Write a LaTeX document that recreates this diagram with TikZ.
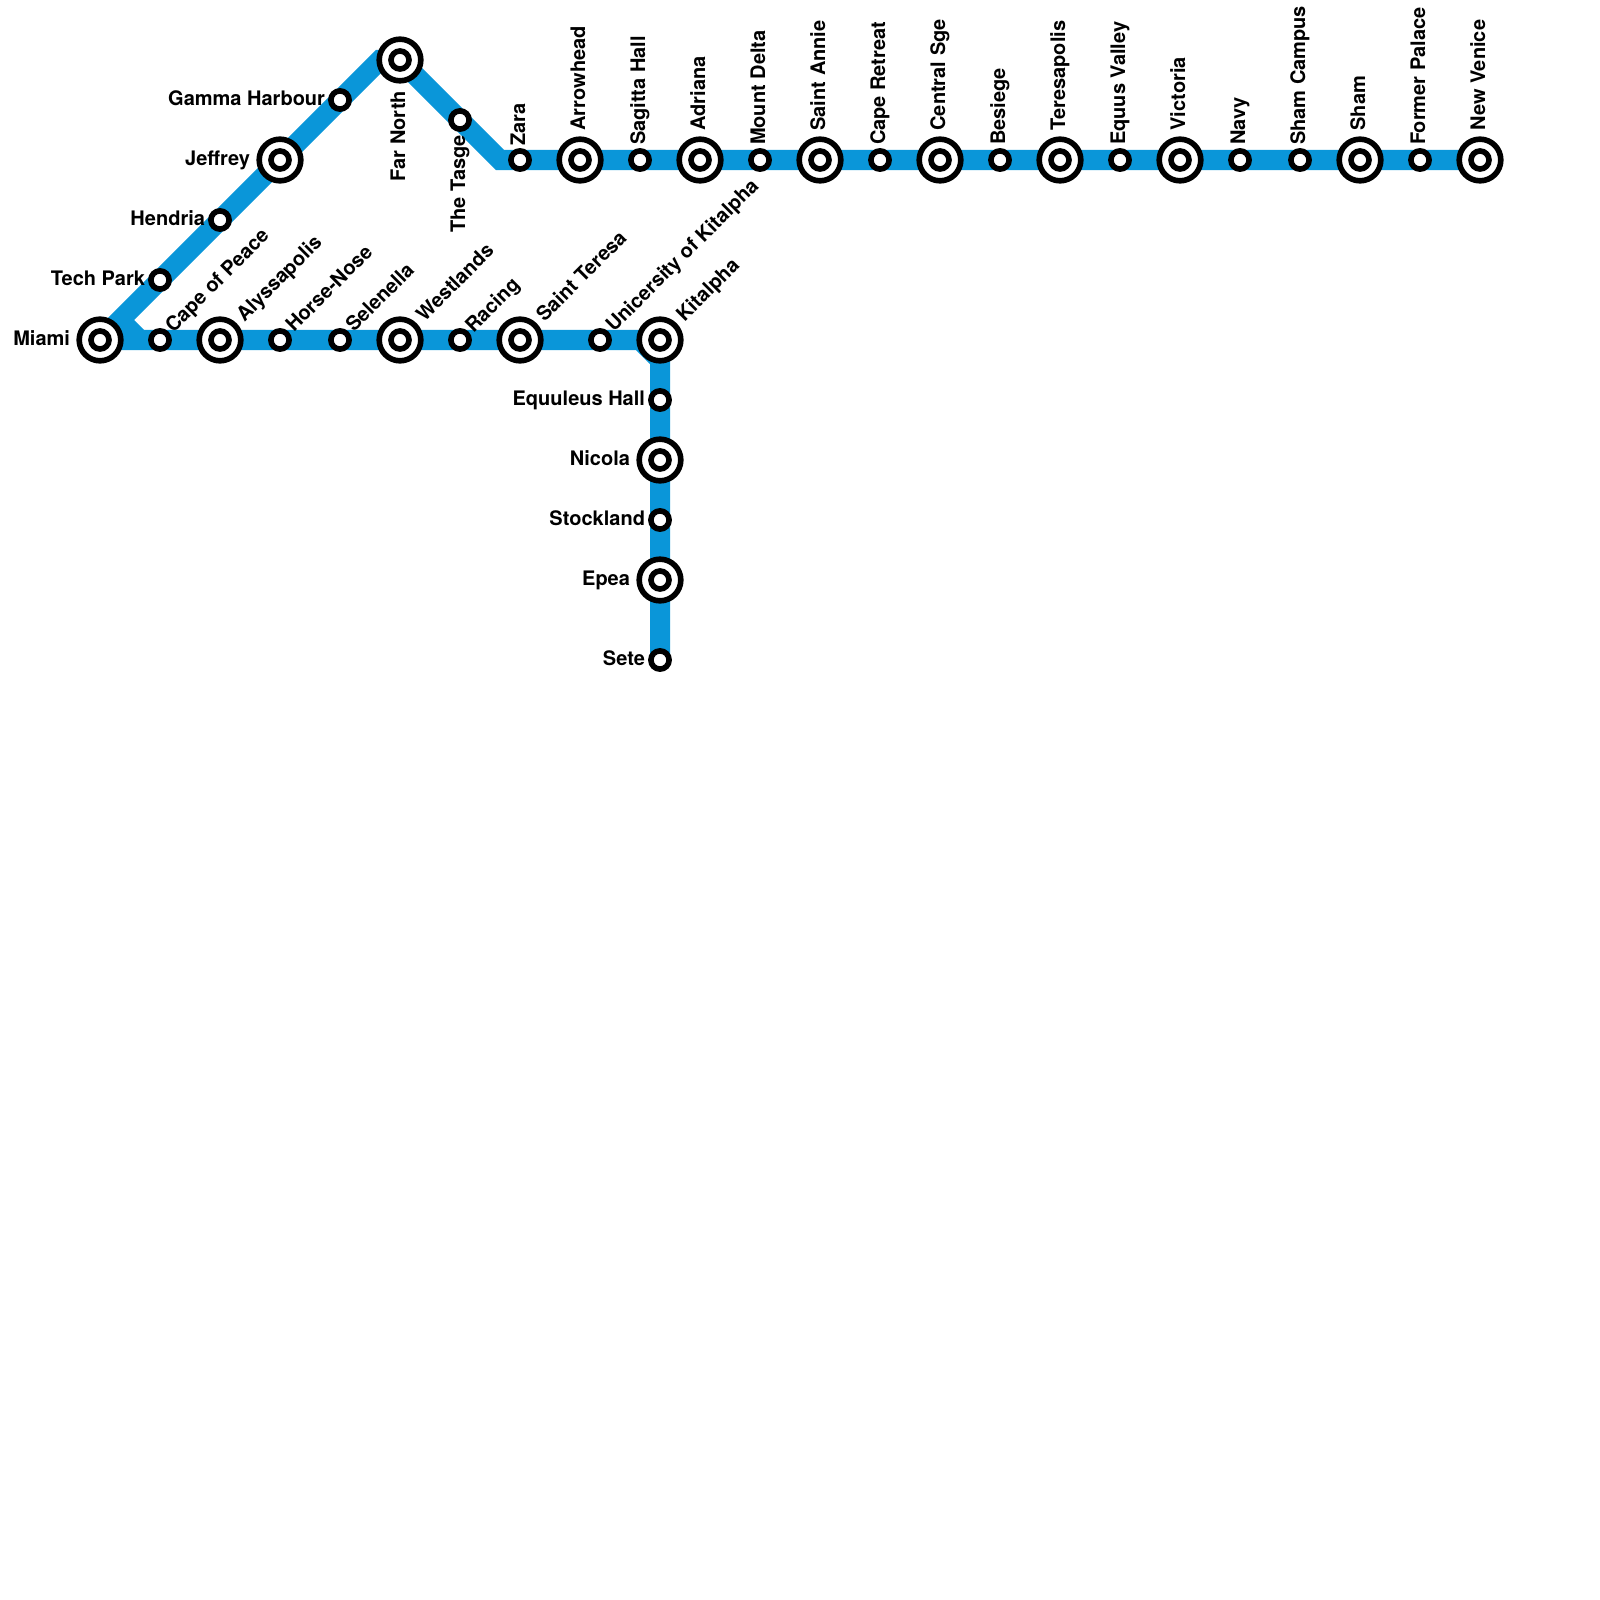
\documentclass[tikz,border=0pt]{standalone}
\usepackage{fontspec}
\setmainfont{TeX Gyre Heros}
\usetikzlibrary{positioning, calc, backgrounds}
\definecolor{linecolor}{HTML}{0A96D9}

\begin{document}
\begin{tikzpicture}[
    x=0.01cm, y=-0.01cm,
    stop/.style={draw=black, line width=0.056cm, circle, fill=white, inner sep=0pt, outer sep=0pt, minimum size=0.182cm},
    hub/.style={draw=black, line width=0.056cm, circle, fill=white, inner sep=0pt, outer sep=0pt, minimum size=0.416cm,
        path picture={\draw[line width=0.056cm] (path picture bounding box.center) circle (0.09cm);}},
    metroline/.style={line width=0.2cm, draw=linecolor, line join=miter},
    lbl/.style={inner sep=0pt, outer sep=0pt, font=\fontsize{5.69}{6}\selectfont\bfseries},
    lblleft/.style={lbl, anchor=base east},
    lblup/.style={lbl, anchor=base west, rotate=90},
    lbldown/.style={lbl, anchor=base east, rotate=90},
    lbldiag/.style={lbl, anchor=base west, rotate=45}
]
\useasboundingbox (0,0) rectangle (1600,1600);

% Stations
\node[hub] (miami) at (100,340) {};
\node[stop] (techpark) at (160,280) {};
\node[stop] (hendria) at (220,220) {};
\node[hub] (jeffrey) at (280,160) {};
\node[stop] (gamma) at (340,100) {};
\node[hub] (farnorth) at (400,60) {};
\node[stop] (tasge) at (460,120) {};
\node[stop] (zara) at (520,160) {};
\node[hub] (arrowhead) at (580,160) {};
\node[stop] (sagitta) at (640,160) {};
\node[hub] (adriana) at (700,160) {};
\node[stop] (mountdelta) at (760,160) {};
\node[hub] (saintannie) at (820,160) {};
\node[stop] (caperetreat) at (880,160) {};
\node[hub] (centralsge) at (940,160) {};
\node[stop] (besiege) at (1000,160) {};
\node[hub] (teresapolis) at (1060,160) {};
\node[stop] (equus) at (1120,160) {};
\node[hub] (victoria) at (1180,160) {};
\node[stop] (navy) at (1240,160) {};
\node[stop] (shamcampus) at (1300,160) {};
\node[hub] (sham) at (1360,160) {};
\node[stop] (formerpalace) at (1420,160) {};
\node[hub] (newvenice) at (1480,160) {};
\node[stop] (capepeace) at (160,340) {};
\node[hub] (alyssapolis) at (220,340) {};
\node[stop] (horsenose) at (280,340) {};
\node[stop] (selenella) at (340,340) {};
\node[hub] (westlands) at (400,340) {};
\node[stop] (racing) at (460,340) {};
\node[hub] (saintteresa) at (520,340) {};
\node[stop] (unicersity) at (600,340) {};
\node[hub] (kitalpha) at (660,340) {};
\node[stop] (equuleus) at (660,400) {};
\node[hub] (nicola) at (660,460) {};
\node[stop] (stockland) at (660,520) {};
\node[hub] (epea) at (660,580) {};
\node[stop] (sete) at (660,660) {};

% Bends
\coordinate (bendtop) at (380,60);
\coordinate (bendzara) at (500,160);
\coordinate (bendmiamia) at (120,320);
\coordinate (bendmiamib) at (140,340);
\coordinate (bendkita) at (640,340);
\coordinate (bendkitb) at (660,360);

% Lines
\begin{scope}[on background layer]
\draw[metroline] (miami.center) -- (gamma.center) -- (bendtop) -- (farnorth.center) -- (bendzara) -- (newvenice.center);
\draw[metroline] (miami.center) -- (unicersity.center) -- (bendkita) -- (bendkitb) -- (sete.center);
\draw[metroline] (bendmiamia) -- (bendmiamib);
\end{scope}

% Labels
\node[lblleft] (miamilabel) at ([xshift=-0.30cm, yshift=-0.05cm] miami.center) {Miami};
\node[lblleft] (techparklabel) at ([xshift=-0.15cm, yshift=-0.05cm] techpark.center) {Tech Park};
\node[lblleft] (hendrialabel) at ([xshift=-0.15cm, yshift=-0.05cm] hendria.center) {Hendria};
\node[lblleft] (jeffreylabel) at ([xshift=-0.30cm, yshift=-0.05cm] jeffrey.center) {Jeffrey};
\node[lblleft] (gammalabel) at ([xshift=-0.15cm, yshift=-0.05cm] gamma.center) {Gamma Harbour};
\node[lbldown] (farnorthlabel) at ([xshift=0.05cm, yshift=-0.31cm] farnorth.center) {Far North};
\node[lbldown] (tasgelabel) at ([xshift=0.05cm, yshift=-0.15cm] tasge.center) {The Tasge};
\node[lblup] (zaralabel) at ([xshift=0.05cm, yshift=0.14cm] zara.center) {Zara};
\node[lblup] (arrowheadlabel) at ([xshift=0.05cm, yshift=0.295cm] arrowhead.center) {Arrowhead};
\node[lblup] (sagittalabel) at ([xshift=0.05cm, yshift=0.15cm] sagitta.center) {Sagitta Hall};
\node[lblup] (adrianalabel) at ([xshift=0.05cm, yshift=0.295cm] adriana.center) {Adriana};
\node[lblup] (mountdeltalabel) at ([xshift=0.05cm, yshift=0.15cm] mountdelta.center) {Mount Delta};
\node[lblup] (saintannielabel) at ([xshift=0.05cm, yshift=0.295cm] saintannie.center) {Saint Annie};
\node[lblup] (caperetreatlabel) at ([xshift=0.05cm, yshift=0.15cm] caperetreat.center) {Cape Retreat};
\node[lblup] (centralsgelabel) at ([xshift=0.05cm, yshift=0.295cm] centralsge.center) {Central Sge};
\node[lblup] (besiegelabel) at ([xshift=0.05cm, yshift=0.15cm] besiege.center) {Besiege};
\node[lblup] (teresapolislabel) at ([xshift=0.05cm, yshift=0.295cm] teresapolis.center) {Teresapolis};
\node[lblup] (equuslabel) at ([xshift=0.05cm, yshift=0.15cm] equus.center) {Equus Valley};
\node[lblup] (victorialabel) at ([xshift=0.05cm, yshift=0.295cm] victoria.center) {Victoria};
\node[lblup] (navylabel) at ([xshift=0.05cm, yshift=0.15cm] navy.center) {Navy};
\node[lblup] (shamcampuslabel) at ([xshift=0.05cm, yshift=0.15cm] shamcampus.center) {Sham Campus};
\node[lblup] (shamlabel) at ([xshift=0.05cm, yshift=0.295cm] sham.center) {Sham};
\node[lblup] (formerpalacelabel) at ([xshift=0.05cm, yshift=0.15cm] formerpalace.center) {Former Palace};
\node[lblup] (newvenicelabel) at ([xshift=0.05cm, yshift=0.295cm] newvenice.center) {New Venice};
\node[lbldiag] (capepeacelabel) at ([xshift=0.135cm, yshift=0.065cm] capepeace.center) {Cape of Peace};
\node[lbldiag] (alyssapolislabel) at ([xshift=0.245cm, yshift=0.175cm] alyssapolis.center) {Alyssapolis};
\node[lbldiag] (horsenoselabel) at ([xshift=0.14cm, yshift=0.07cm] horsenose.center) {Horse-Nose};
\node[lbldiag] (selenellalabel) at ([xshift=0.14cm, yshift=0.07cm] selenella.center) {Selenella};
\node[lbldiag] (westlandslabel) at ([xshift=0.245cm, yshift=0.175cm] westlands.center) {Westlands};
\node[lbldiag] (racinglabel) at ([xshift=0.135cm, yshift=0.065cm] racing.center) {Racing};
\node[lbldiag] (saintteresalabel) at ([xshift=0.245cm, yshift=0.175cm] saintteresa.center) {Saint Teresa};
\node[lbldiag] (unicersitylabel) at ([xshift=0.14cm, yshift=0.07cm] unicersity.center) {Unicersity of Kitalpha};
\node[lbldiag] (kitalphalabel) at ([xshift=0.245cm, yshift=0.175cm] kitalpha.center) {Kitalpha};
\node[lblleft] (equuleuslabel) at ([xshift=-0.15cm, yshift=-0.05cm] equuleus.center) {Equuleus Hall};
\node[lblleft] (nicolalabel) at ([xshift=-0.30cm, yshift=-0.05cm] nicola.center) {Nicola};
\node[lblleft] (stocklandlabel) at ([xshift=-0.15cm, yshift=-0.05cm] stockland.center) {Stockland};
\node[lblleft] (epealabel) at ([xshift=-0.30cm, yshift=-0.05cm] epea.center) {Epea};
\node[lblleft] (setelabel) at ([xshift=-0.15cm, yshift=-0.05cm] sete.center) {Sete};

\end{tikzpicture}
\end{document}
